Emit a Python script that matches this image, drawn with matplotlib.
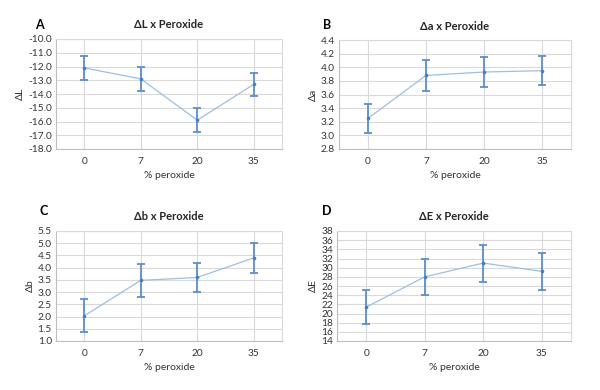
import matplotlib
matplotlib.use("Agg")
import matplotlib.pyplot as plt

plt.rcParams['font.family'] = ['Lato', 'DejaVu Sans']

peroxide = ["0", "7", "20", "35"]

dL = [-12.1, -12.9, -15.9, -13.3]
dL_err = [0.85, 0.85, 0.85, 0.85]
da = [3.25, 3.88, 3.93, 3.95]
da_err = [0.21, 0.23, 0.225, 0.215]
db = [2.03, 3.48, 3.60, 4.40]
db_err = [0.67, 0.66, 0.60, 0.62]
dE = [21.4, 28.0, 31.0, 29.2]
dE_err = [3.75, 3.95, 4.05, 4.05]

panels = [
    ("A", "ΔL x Peroxide", "ΔL", dL, dL_err, (-18, -10), 1.0, "{:.1f}",
     [56, 39, 282, 149], (35, 25)),
    ("B", "Δa x Peroxide", "Δa", da, da_err, (2.8, 4.4), 0.2, "{:.1f}",
     [339, 40, 571, 149], (323, 25)),
    ("C", "Δb x Peroxide", "Δb", db, db_err, (1.0, 5.5), 0.5, "{:.1f}",
     [56, 231, 282, 341], (39, 211)),
    ("D", "ΔE x Peroxide", "ΔE", dE, dE_err, (14, 38), 2, "{:.0f}",
     [337, 231, 571, 341], (322, 211)),
]

W, H = 600, 390
fig = plt.figure(figsize=(6, 3.9), dpi=100)

for letter, title, ylab, vals, errs, ylim, step, fmt, box, lpos in panels:
    x0, y0, x1, y1 = box
    ax = fig.add_axes([x0 / W, 1 - y1 / H, (x1 - x0) / W, (y1 - y0) / H])
    xs = range(len(peroxide))
    ax.plot(xs, vals, color="#9dbfe0", lw=0.9, zorder=2)
    ax.errorbar(xs, vals, yerr=errs, fmt="o", ms=1.6, color="#4a7fbf",
                ecolor="#5b8fcc", elinewidth=1.3, capsize=3, capthick=1.3, zorder=3)
    ax.set_xlim(-0.5, 3.5)
    ax.set_ylim(*ylim)
    n = int(round((ylim[1] - ylim[0]) / step))
    ticks = [ylim[0] + i * step for i in range(n + 1)]
    ax.set_yticks(ticks)
    ax.set_yticklabels([fmt.format(t) for t in ticks])
    ax.set_xticks(list(xs))
    ax.set_xticklabels(peroxide)
    ax.grid(True, color="#d9d9d9", lw=0.8)
    ax.set_axisbelow(True)
    for s in ax.spines.values():
        s.set_color("#d9d9d9")
        s.set_linewidth(0.8)
    ax.spines["left"].set_color("#bfbfbf")
    ax.spines["bottom"].set_color("#bfbfbf")
    ax.tick_params(length=0, labelsize=7.3, colors="#333333", pad=3)
    ax.tick_params(axis="x", pad=6)
    ax.set_xlabel("% peroxide", fontsize=7.5, color="#333333", labelpad=3)
    ax.set_ylabel(ylab, fontsize=7.5, color="#333333", labelpad=2)
    cx = (x0 + x1) / 2 / W
    fig.text(cx, 1 - (y0 - 14) / H, title, ha="center", va="center",
             fontsize=8, fontweight="bold", color="#262626")
    fig.text(lpos[0] / W, 1 - lpos[1] / H, letter, ha="left", va="center",
             fontsize=9, fontweight="bold", color="#000000")

fig.savefig("out.png", dpi=100)
